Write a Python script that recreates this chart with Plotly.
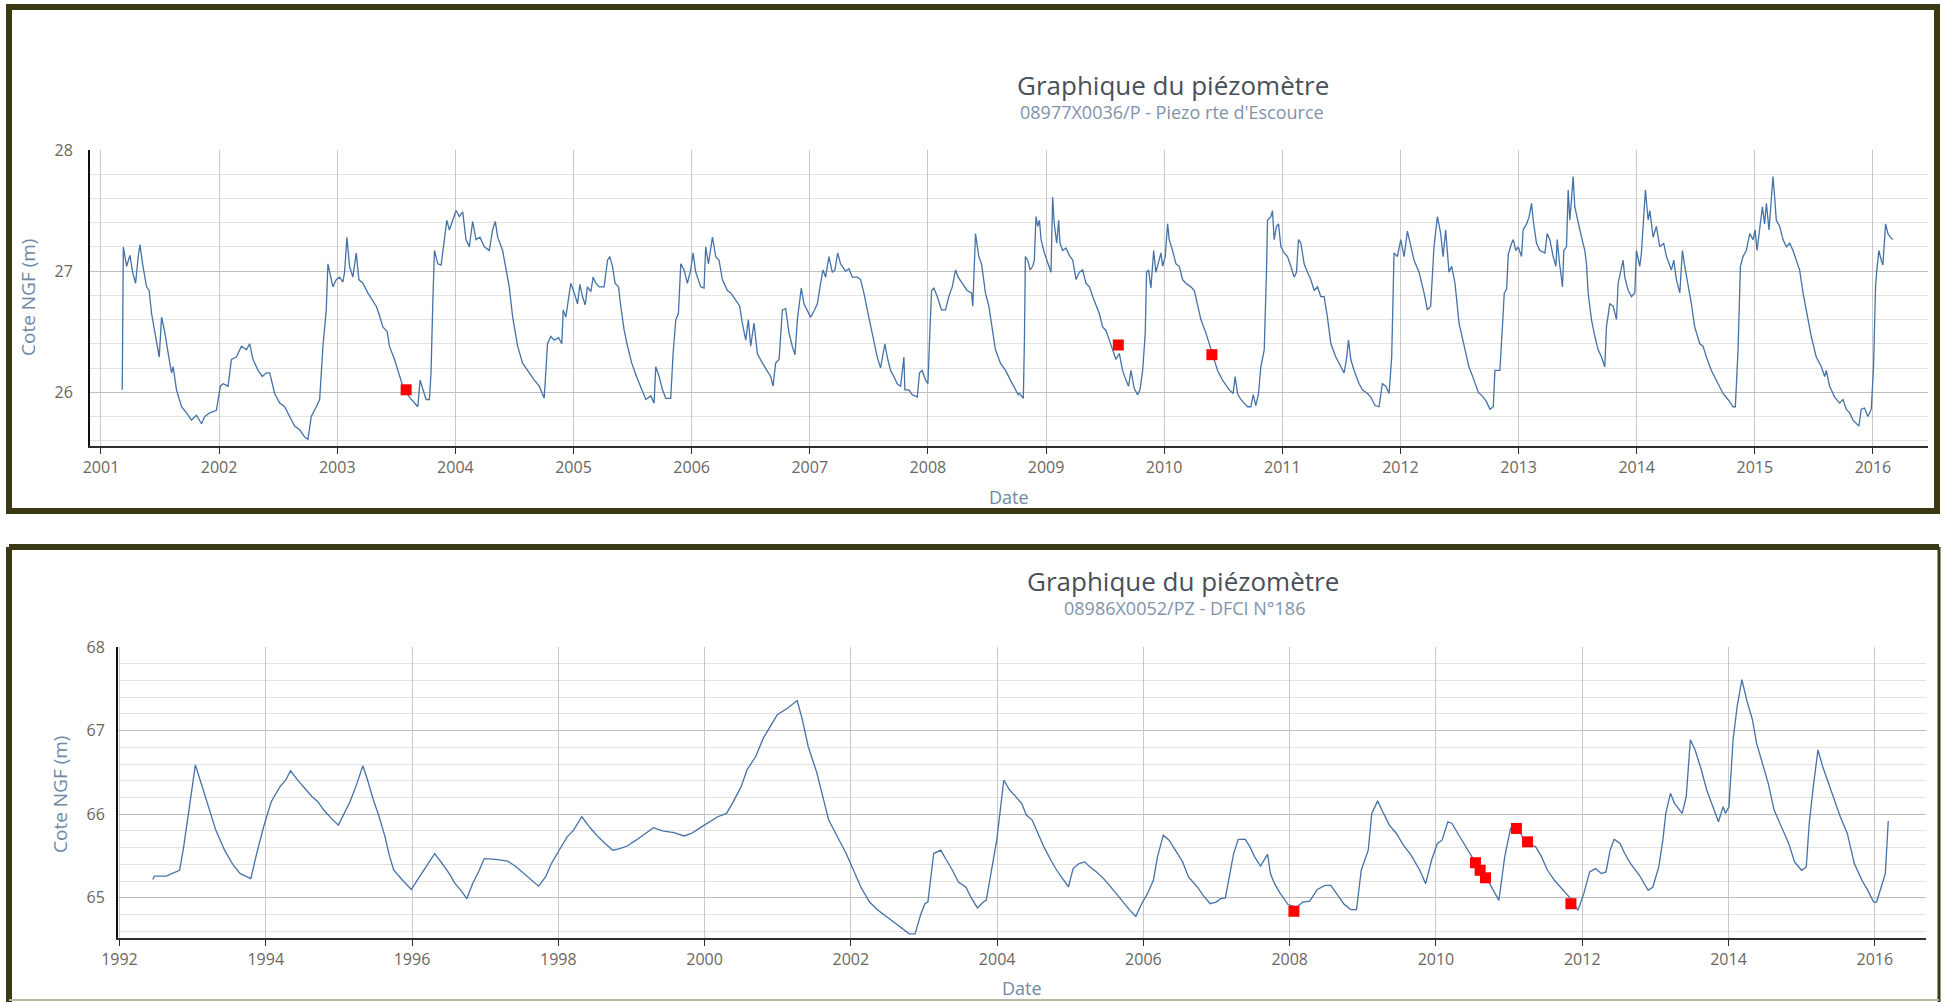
import plotly.graph_objects as go

# ---------------- Top chart: 08977X0036/P ----------------
top_year = [
    2001.180, 2001.189, 2001.217, 2001.245, 2001.268, 2001.293, 2001.315, 2001.330, 2001.352, 2001.386,
    2001.408, 2001.428, 2001.448, 2001.470, 2001.493, 2001.513, 2001.541, 2001.569, 2001.597, 2001.611,
    2001.639, 2001.682, 2001.724, 2001.766, 2001.808, 2001.851, 2001.879, 2001.921, 2001.977, 2002.011,
    2002.034, 2002.076, 2002.104, 2002.146, 2002.189, 2002.231, 2002.259, 2002.287, 2002.330, 2002.366,
    2002.400, 2002.428, 2002.470, 2002.513, 2002.555, 2002.597, 2002.639, 2002.682, 2002.724, 2002.752,
    2002.780, 2002.823, 2002.851, 2002.879, 2002.907, 2002.921, 2002.941, 2002.963, 2002.992, 2003.020,
    2003.048, 2003.062, 2003.082, 2003.104, 2003.132, 2003.161, 2003.183, 2003.217, 2003.259, 2003.296,
    2003.330, 2003.352, 2003.386, 2003.423, 2003.442, 2003.485, 2003.527, 2003.555, 2003.611, 2003.654,
    2003.682, 2003.701, 2003.724, 2003.752, 2003.780, 2003.794, 2003.808, 2003.823, 2003.851, 2003.879,
    2003.907, 2003.927, 2003.949, 2003.977, 2004.006, 2004.034, 2004.062, 2004.090, 2004.118, 2004.146,
    2004.175, 2004.208, 2004.245, 2004.287, 2004.315, 2004.338, 2004.358, 2004.400, 2004.428, 2004.456,
    2004.485, 2004.527, 2004.569, 2004.625, 2004.668, 2004.710, 2004.752, 2004.780, 2004.808, 2004.837,
    2004.873, 2004.901, 2004.913, 2004.935, 2004.958, 2004.977, 2005.006, 2005.034, 2005.054, 2005.076,
    2005.099, 2005.118, 2005.147, 2005.166, 2005.189, 2005.217, 2005.259, 2005.288, 2005.307, 2005.330,
    2005.352, 2005.381, 2005.400, 2005.429, 2005.457, 2005.493, 2005.533, 2005.569, 2005.612, 2005.654,
    2005.682, 2005.696, 2005.725, 2005.753, 2005.781, 2005.823, 2005.843, 2005.866, 2005.888, 2005.908,
    2005.936, 2005.964, 2005.992, 2006.012, 2006.035, 2006.077, 2006.105, 2006.119, 2006.142, 2006.176,
    2006.204, 2006.232, 2006.260, 2006.303, 2006.331, 2006.373, 2006.407, 2006.429, 2006.458, 2006.480,
    2006.500, 2006.528, 2006.556, 2006.599, 2006.641, 2006.669, 2006.689, 2006.711, 2006.740, 2006.768,
    2006.796, 2006.824, 2006.852, 2006.875, 2006.895, 2006.928, 2006.951, 2006.979, 2007.007, 2007.036,
    2007.064, 2007.092, 2007.112, 2007.134, 2007.162, 2007.191, 2007.213, 2007.236, 2007.261, 2007.303,
    2007.332, 2007.360, 2007.402, 2007.430, 2007.458, 2007.487, 2007.515, 2007.543, 2007.571, 2007.599,
    2007.636, 2007.656, 2007.684, 2007.712, 2007.740, 2007.769, 2007.797, 2007.805, 2007.839, 2007.867,
    2007.910, 2007.929, 2007.952, 2007.980, 2008.000, 2008.014, 2008.031, 2008.051, 2008.079, 2008.115,
    2008.149, 2008.177, 2008.206, 2008.234, 2008.256, 2008.290, 2008.332, 2008.369, 2008.380, 2008.403,
    2008.431, 2008.454, 2008.487, 2008.516, 2008.544, 2008.572, 2008.614, 2008.657, 2008.699, 2008.727,
    2008.764, 2008.774, 2008.808, 2008.817, 2008.825, 2008.845, 2008.865, 2008.887, 2008.901, 2008.915,
    2008.930, 2008.944, 2008.958, 2008.986, 2009.014, 2009.042, 2009.056, 2009.070, 2009.090, 2009.107,
    2009.118, 2009.141, 2009.169, 2009.197, 2009.226, 2009.254, 2009.282, 2009.310, 2009.338, 2009.367,
    2009.395, 2009.429, 2009.451, 2009.479, 2009.507, 2009.536, 2009.564, 2009.592, 2009.620, 2009.648,
    2009.677, 2009.699, 2009.719, 2009.747, 2009.775, 2009.795, 2009.818, 2009.840, 2009.851, 2009.868,
    2009.888, 2009.911, 2009.930, 2009.953, 2009.973, 2009.987, 2010.009, 2010.029, 2010.043, 2010.071,
    2010.100, 2010.128, 2010.156, 2010.184, 2010.226, 2010.255, 2010.283, 2010.311, 2010.353, 2010.381,
    2010.424, 2010.452, 2010.494, 2010.551, 2010.584, 2010.601, 2010.621, 2010.649, 2010.677, 2010.706,
    2010.734, 2010.754, 2010.776, 2010.799, 2010.818, 2010.847, 2010.866, 2010.875, 2010.903, 2010.917,
    2010.931, 2010.951, 2010.968, 2010.988, 2011.016, 2011.044, 2011.072, 2011.100, 2011.120, 2011.137,
    2011.157, 2011.185, 2011.213, 2011.241, 2011.270, 2011.298, 2011.326, 2011.354, 2011.382, 2011.411,
    2011.453, 2011.495, 2011.523, 2011.543, 2011.560, 2011.580, 2011.608, 2011.650, 2011.678, 2011.721,
    2011.749, 2011.785, 2011.819, 2011.847, 2011.876, 2011.904, 2011.926, 2011.946, 2011.974, 2012.003,
    2012.031, 2012.059, 2012.087, 2012.115, 2012.158, 2012.200, 2012.228, 2012.256, 2012.284, 2012.313,
    2012.341, 2012.361, 2012.383, 2012.411, 2012.434, 2012.462, 2012.496, 2012.538, 2012.580, 2012.623,
    2012.659, 2012.701, 2012.729, 2012.758, 2012.786, 2012.800, 2012.842, 2012.865, 2012.879, 2012.899,
    2012.913, 2012.941, 2012.955, 2012.977, 2012.997, 2013.025, 2013.039, 2013.068, 2013.090, 2013.110,
    2013.124, 2013.152, 2013.180, 2013.223, 2013.242, 2013.265, 2013.293, 2013.316, 2013.327, 2013.344,
    2013.372, 2013.383, 2013.406, 2013.420, 2013.434, 2013.448, 2013.462, 2013.476, 2013.505, 2013.533,
    2013.561, 2013.575, 2013.589, 2013.617, 2013.646, 2013.674, 2013.702, 2013.730, 2013.744, 2013.772,
    2013.801, 2013.829, 2013.843, 2013.871, 2013.885, 2013.899, 2013.928, 2013.956, 2013.984, 2013.998,
    2014.026, 2014.040, 2014.054, 2014.074, 2014.097, 2014.111, 2014.139, 2014.167, 2014.195, 2014.229,
    2014.252, 2014.294, 2014.314, 2014.336, 2014.365, 2014.387, 2014.407, 2014.435, 2014.463, 2014.491,
    2014.534, 2014.562, 2014.590, 2014.632, 2014.675, 2014.731, 2014.773, 2014.816, 2014.835, 2014.858,
    2014.878, 2014.900, 2014.928, 2014.957, 2014.985, 2015.002, 2015.019, 2015.041, 2015.064, 2015.083,
    2015.098, 2015.120, 2015.140, 2015.154, 2015.168, 2015.182, 2015.210, 2015.239, 2015.267, 2015.295,
    2015.323, 2015.351, 2015.379, 2015.408, 2015.430, 2015.450, 2015.478, 2015.520, 2015.563, 2015.591,
    2015.605, 2015.633, 2015.676, 2015.718, 2015.746, 2015.774, 2015.802, 2015.831, 2015.859, 2015.881,
    2015.901, 2015.929, 2015.957, 2015.986, 2016.005, 2016.022, 2016.033, 2016.050, 2016.070, 2016.084,
    2016.107, 2016.127, 2016.146, 2016.169,
]
top_level = [
    26.02, 27.20, 27.04, 27.13, 26.99, 26.90, 27.12, 27.22, 27.06, 26.87,
    26.84, 26.65, 26.54, 26.40, 26.29, 26.62, 26.49, 26.32, 26.16, 26.21,
    26.02, 25.88, 25.83, 25.77, 25.81, 25.74, 25.80, 25.83, 25.85, 26.05,
    26.07, 26.05, 26.27, 26.29, 26.38, 26.35, 26.40, 26.27, 26.18, 26.13,
    26.16, 26.16, 25.99, 25.91, 25.88, 25.80, 25.72, 25.69, 25.63, 25.61,
    25.80, 25.88, 25.94, 26.38, 26.68, 27.06, 26.98, 26.87, 26.93, 26.95,
    26.91, 26.99, 27.28, 27.04, 26.95, 27.15, 26.93, 26.90, 26.82, 26.76,
    26.71, 26.65, 26.54, 26.50, 26.38, 26.27, 26.13, 26.05, 25.96, 25.91,
    25.88, 26.10, 26.03, 25.94, 25.94, 26.16, 26.71, 27.17, 27.06, 27.05,
    27.26, 27.42, 27.34, 27.42, 27.50, 27.45, 27.49, 27.26, 27.20, 27.41,
    27.26, 27.28, 27.20, 27.17, 27.34, 27.41, 27.28, 27.17, 27.01, 26.87,
    26.62, 26.38, 26.24, 26.16, 26.10, 26.05, 25.95, 26.40, 26.46, 26.43,
    26.45, 26.40, 26.68, 26.62, 26.76, 26.90, 26.82, 26.73, 26.89, 26.79,
    26.72, 26.87, 26.83, 26.95, 26.90, 26.87, 26.87, 27.09, 27.12, 27.04,
    26.90, 26.87, 26.71, 26.51, 26.38, 26.24, 26.13, 26.05, 25.94, 25.97,
    25.91, 26.21, 26.13, 26.02, 25.95, 25.95, 26.32, 26.60, 26.65, 27.06,
    27.01, 26.90, 27.01, 27.15, 26.99, 26.87, 26.86, 27.20, 27.06, 27.28,
    27.12, 27.09, 26.93, 26.84, 26.82, 26.76, 26.71, 26.57, 26.43, 26.60,
    26.38, 26.57, 26.32, 26.24, 26.18, 26.13, 26.05, 26.24, 26.27, 26.68,
    26.69, 26.49, 26.38, 26.31, 26.60, 26.86, 26.73, 26.67, 26.62, 26.67,
    26.73, 26.90, 27.01, 26.95, 27.12, 26.99, 27.01, 27.15, 27.06, 27.00,
    27.02, 26.95, 26.95, 26.93, 26.82, 26.68, 26.54, 26.40, 26.29, 26.20,
    26.40, 26.29, 26.18, 26.13, 26.07, 26.05, 26.29, 26.02, 26.02, 25.98,
    25.96, 26.16, 26.18, 26.10, 26.07, 26.43, 26.84, 26.86, 26.79, 26.68,
    26.68, 26.79, 26.87, 27.01, 26.95, 26.90, 26.84, 26.82, 26.71, 27.31,
    27.12, 27.06, 26.82, 26.71, 26.54, 26.35, 26.24, 26.18, 26.10, 26.05,
    25.98, 25.99, 25.95, 26.43, 27.12, 27.09, 27.01, 27.04, 27.09, 27.45,
    27.37, 27.42, 27.26, 27.15, 27.06, 26.99, 27.61, 27.39, 27.23, 27.42,
    27.23, 27.17, 27.19, 27.13, 27.09, 26.93, 26.99, 27.01, 26.90, 26.87,
    26.79, 26.71, 26.65, 26.54, 26.51, 26.43, 26.35, 26.27, 26.32, 26.18,
    26.10, 26.05, 26.18, 26.03, 25.98, 26.02, 26.18, 26.49, 26.99, 27.01,
    26.86, 27.17, 26.99, 27.09, 27.15, 27.04, 27.12, 27.39, 27.26, 27.17,
    27.06, 27.04, 26.93, 26.90, 26.87, 26.84, 26.71, 26.60, 26.49, 26.40,
    26.27, 26.18, 26.10, 26.02, 25.99, 26.13, 25.99, 25.94, 25.91, 25.88,
    25.88, 25.98, 25.89, 25.99, 26.21, 26.35, 26.99, 27.42, 27.45, 27.50,
    27.26, 27.37, 27.39, 27.20, 27.15, 27.12, 27.04, 26.95, 26.99, 27.26,
    27.23, 27.06, 26.99, 26.93, 26.84, 26.87, 26.79, 26.79, 26.62, 26.40,
    26.29, 26.21, 26.16, 26.27, 26.43, 26.27, 26.18, 26.07, 26.02, 25.99,
    25.96, 25.89, 25.88, 26.07, 26.05, 25.99, 26.29, 27.15, 27.12, 27.26,
    27.12, 27.33, 27.20, 27.09, 26.99, 26.82, 26.68, 26.71, 27.20, 27.45,
    27.31, 27.12, 27.34, 26.99, 27.04, 26.90, 26.57, 26.38, 26.21, 26.10,
    26.00, 25.96, 25.92, 25.86, 25.88, 26.18, 26.18, 26.57, 26.82, 26.85,
    27.14, 27.23, 27.26, 27.17, 27.20, 27.12, 27.34, 27.39, 27.45, 27.56,
    27.42, 27.23, 27.17, 27.15, 27.31, 27.26, 27.12, 27.04, 27.26, 27.09,
    26.87, 27.17, 27.20, 27.67, 27.42, 27.59, 27.78, 27.53, 27.39, 27.28,
    27.17, 27.06, 26.82, 26.60, 26.46, 26.35, 26.29, 26.21, 26.54, 26.73,
    26.71, 26.60, 26.90, 27.01, 27.09, 26.95, 26.84, 26.79, 26.82, 27.17,
    27.04, 27.15, 27.39, 27.67, 27.42, 27.50, 27.28, 27.37, 27.20, 27.23,
    27.12, 27.01, 27.09, 26.93, 26.82, 27.17, 27.04, 26.90, 26.73, 26.54,
    26.40, 26.38, 26.29, 26.18, 26.10, 25.99, 25.94, 25.88, 25.88, 26.35,
    27.04, 27.12, 27.17, 27.31, 27.26, 27.34, 27.17, 27.37, 27.53, 27.39,
    27.56, 27.34, 27.64, 27.78, 27.61, 27.42, 27.37, 27.26, 27.20, 27.23,
    27.17, 27.09, 27.01, 26.82, 26.71, 26.62, 26.46, 26.29, 26.21, 26.13,
    26.18, 26.05, 25.96, 25.91, 25.94, 25.86, 25.83, 25.77, 25.74, 25.72,
    25.86, 25.87, 25.80, 25.86, 26.21, 26.87, 27.01, 27.17, 27.09, 27.05,
    27.39, 27.31, 27.28, 27.26,
]
top_obs_year = [2003.583, 2009.612, 2010.404]
top_obs_level = [26.02, 26.39, 26.31]
top_ticks = [2001, 2002, 2003, 2004, 2005, 2006, 2007, 2008, 2009, 2010, 2011, 2012, 2013, 2014, 2015, 2016]
top_tick_labels = [str(t) for t in top_ticks]
top_y_ticks = [26, 27, 28]

# ---------------- Bottom chart: 08986X0052/PZ ----------------
bot_year = [
    1992.455, 1992.479, 1992.638, 1992.758, 1992.822, 1992.878, 1992.958, 1993.038, 1993.117, 1993.173,
    1993.237, 1993.317, 1993.437, 1993.556, 1993.652, 1993.796, 1993.876, 1993.971, 1994.075, 1994.195,
    1994.275, 1994.338, 1994.434, 1994.514, 1994.634, 1994.713, 1994.793, 1994.897, 1994.993, 1995.073,
    1995.152, 1995.232, 1995.328, 1995.392, 1995.472, 1995.551, 1995.631, 1995.695, 1995.751, 1995.871,
    1995.990, 1996.070, 1996.190, 1996.310, 1996.429, 1996.509, 1996.589, 1996.669, 1996.749, 1996.828,
    1996.908, 1996.988, 1997.148, 1997.307, 1997.427, 1997.587, 1997.730, 1997.826, 1997.906, 1998.026,
    1998.121, 1998.209, 1998.321, 1998.425, 1998.544, 1998.640, 1998.744, 1998.840, 1998.943, 1999.063,
    1999.183, 1999.302, 1999.422, 1999.582, 1999.717, 1999.821, 1999.941, 2000.061, 2000.180, 2000.300,
    2000.380, 2000.500, 2000.579, 2000.699, 2000.803, 2000.899, 2000.994, 2001.138, 2001.266, 2001.337,
    2001.417, 2001.537, 2001.617, 2001.697, 2001.816, 2001.936, 2002.056, 2002.136, 2002.255, 2002.375,
    2002.495, 2002.614, 2002.734, 2002.798, 2002.878, 2002.958, 2003.013, 2003.053, 2003.133, 2003.229,
    2003.309, 2003.389, 2003.469, 2003.572, 2003.652, 2003.731, 2003.811, 2003.851, 2003.915, 2003.995,
    2004.091, 2004.170, 2004.255, 2004.335, 2004.399, 2004.479, 2004.559, 2004.639, 2004.735, 2004.815,
    2004.895, 2004.975, 2005.039, 2005.119, 2005.199, 2005.255, 2005.359, 2005.456, 2005.536, 2005.632,
    2005.736, 2005.816, 2005.896, 2005.976, 2006.056, 2006.136, 2006.192, 2006.272, 2006.352, 2006.432,
    2006.536, 2006.616, 2006.737, 2006.817, 2006.913, 2006.993, 2007.057, 2007.121, 2007.177, 2007.233,
    2007.297, 2007.393, 2007.457, 2007.521, 2007.601, 2007.697, 2007.737, 2007.793, 2007.873, 2007.978,
    2008.098, 2008.178, 2008.274, 2008.378, 2008.482, 2008.562, 2008.642, 2008.738, 2008.834, 2008.914,
    2008.978, 2009.074, 2009.122, 2009.203, 2009.283, 2009.363, 2009.459, 2009.555, 2009.659, 2009.779,
    2009.859, 2009.939, 2010.019, 2010.083, 2010.163, 2010.219, 2010.299, 2010.380, 2010.460, 2010.540,
    2010.604, 2010.684, 2010.780, 2010.860, 2010.940, 2011.020, 2011.100, 2011.204, 2011.300, 2011.364,
    2011.444, 2011.524, 2011.620, 2011.741, 2011.861, 2011.941, 2012.021, 2012.101, 2012.181, 2012.261,
    2012.325, 2012.381, 2012.437, 2012.517, 2012.581, 2012.661, 2012.781, 2012.902, 2012.966, 2013.046,
    2013.102, 2013.142, 2013.206, 2013.262, 2013.366, 2013.422, 2013.478, 2013.542, 2013.622, 2013.702,
    2013.782, 2013.862, 2013.926, 2013.958, 2014.006, 2014.062, 2014.118, 2014.183, 2014.247, 2014.327,
    2014.383, 2014.463, 2014.543, 2014.623, 2014.703, 2014.823, 2014.903, 2014.999, 2015.063, 2015.103,
    2015.159, 2015.223, 2015.287, 2015.367, 2015.447, 2015.528, 2015.624, 2015.720, 2015.824, 2015.904,
    2015.984, 2016.024, 2016.088, 2016.144, 2016.184,
]
bot_level = [
    65.22, 65.26, 65.26, 65.30, 65.33, 65.61, 66.09, 66.59, 66.37, 66.21,
    66.01, 65.81, 65.57, 65.39, 65.29, 65.23, 65.53, 65.85, 66.15, 66.33,
    66.41, 66.52, 66.41, 66.33, 66.21, 66.15, 66.05, 65.95, 65.87, 66.01,
    66.15, 66.33, 66.58, 66.41, 66.17, 65.97, 65.73, 65.49, 65.33, 65.21,
    65.10, 65.21, 65.37, 65.53, 65.39, 65.29, 65.17, 65.09, 64.99, 65.17,
    65.31, 65.47, 65.46, 65.44, 65.37, 65.25, 65.14, 65.25, 65.41, 65.59,
    65.73, 65.81, 65.97, 65.85, 65.73, 65.65, 65.57, 65.59, 65.62, 65.69,
    65.76, 65.84, 65.80, 65.78, 65.74, 65.77, 65.84, 65.91, 65.97, 66.01,
    66.13, 66.33, 66.53, 66.69, 66.91, 67.05, 67.19, 67.27, 67.36, 67.13,
    66.81, 66.49, 66.21, 65.93, 65.73, 65.53, 65.29, 65.13, 64.95, 64.85,
    64.77, 64.69, 64.61, 64.57, 64.57, 64.81, 64.93, 64.95, 65.53, 65.57,
    65.45, 65.33, 65.19, 65.13, 64.99, 64.88, 64.95, 64.97, 65.29, 65.69,
    66.41, 66.29, 66.21, 66.13, 65.99, 65.93, 65.77, 65.61, 65.45, 65.33,
    65.23, 65.13, 65.35, 65.41, 65.43, 65.38, 65.31, 65.23, 65.15, 65.05,
    64.93, 64.85, 64.78, 64.93, 65.05, 65.21, 65.49, 65.75, 65.69, 65.57,
    65.43, 65.25, 65.13, 65.03, 64.93, 64.95, 64.99, 65.00, 65.25, 65.53,
    65.70, 65.70, 65.61, 65.49, 65.38, 65.52, 65.29, 65.17, 65.05, 64.92,
    64.89, 64.95, 64.96, 65.10, 65.15, 65.15, 65.05, 64.93, 64.86, 64.86,
    65.33, 65.57, 66.01, 66.16, 66.01, 65.87, 65.77, 65.63, 65.51, 65.33,
    65.17, 65.45, 65.65, 65.69, 65.91, 65.89, 65.77, 65.65, 65.53, 65.41,
    65.33, 65.25, 65.09, 64.97, 65.49, 65.83, 65.88, 65.69, 65.63, 65.61,
    65.49, 65.33, 65.21, 65.09, 64.97, 64.85, 65.05, 65.31, 65.35, 65.29,
    65.31, 65.57, 65.70, 65.65, 65.53, 65.41, 65.27, 65.09, 65.13, 65.37,
    65.69, 66.01, 66.25, 66.13, 66.01, 66.21, 66.89, 66.77, 66.55, 66.29,
    66.09, 65.91, 66.09, 66.01, 66.09, 66.89, 67.29, 67.61, 67.37, 67.13,
    66.85, 66.61, 66.37, 66.05, 65.89, 65.65, 65.43, 65.33, 65.37, 65.89,
    66.33, 66.77, 66.57, 66.37, 66.19, 65.97, 65.77, 65.41, 65.21, 65.09,
    64.95, 64.95, 65.13, 65.29, 65.92,
]
bot_obs_year = [2008.058, 2010.540, 2010.604, 2010.677, 2011.100, 2011.252, 2011.845]
bot_obs_level = [64.84, 65.42, 65.33, 65.24, 65.83, 65.67, 64.93]
bot_ticks = [1992, 1994, 1996, 1998, 2000, 2002, 2004, 2006, 2008, 2010, 2012, 2014, 2016]
bot_tick_labels = [str(t) for t in bot_ticks]
bot_y_ticks = [65, 66, 67, 68]

title_text = "Graphique du piézomètre"
top_subtitle = "08977X0036/P - Piezo rte d'Escource"
bot_subtitle = "08986X0052/PZ - DFCI N°186"
x_title = "Date"
y_title = "Cote NGF (m)"

# ---------------- Figure ----------------
W, H = 1942, 1002
FONT = "Open Sans"
LINE_COLOR = "#4572a7"
OBS_COLOR = "#ff0000"
TICK_COLOR = "#6b6661"
AXTITLE_COLOR = "#7088a4"
TITLE_COLOR = "#4a4f58"
SUBTITLE_COLOR = "#8193ab"
BORDER = "#3b3a14"


def px(x):
    return x / W


def py(y):
    return 1 - y / H


fig = go.Figure()
fig.add_trace(go.Scatter(x=top_year, y=top_level, mode="lines", xaxis="x", yaxis="y",
                         line=dict(color=LINE_COLOR, width=1.3), hoverinfo="skip"))
fig.add_trace(go.Scatter(x=top_obs_year, y=top_obs_level, mode="markers", xaxis="x", yaxis="y",
                         marker=dict(symbol="square", size=11, color=OBS_COLOR), hoverinfo="skip"))
fig.add_trace(go.Scatter(x=bot_year, y=bot_level, mode="lines", xaxis="x2", yaxis="y2",
                         line=dict(color=LINE_COLOR, width=1.3), hoverinfo="skip"))
fig.add_trace(go.Scatter(x=bot_obs_year, y=bot_obs_level, mode="markers", xaxis="x2", yaxis="y2",
                         marker=dict(symbol="square", size=11, color=OBS_COLOR), hoverinfo="skip"))

tickfont = dict(family=FONT, size=16, color=TICK_COLOR)

xaxis_common = dict(showgrid=True, gridcolor="#c9c9c9", gridwidth=1, showline=True,
                    linecolor="#2e2e2e", linewidth=2, ticks="outside", ticklen=6, tickwidth=1,
                    tickcolor="#2e2e2e", zeroline=False, tickfont=tickfont, tickmode="array",
                    automargin=False)
yaxis_common = dict(showgrid=True, gridcolor="#bdbdbd", gridwidth=1, showline=True,
                    linecolor="#111111", linewidth=2, ticks="", zeroline=False, tickfont=tickfont,
                    tickmode="array", automargin=False)

fig.update_layout(
    width=W, height=H, autosize=False,
    margin=dict(l=0, r=0, t=0, b=0, pad=0),
    paper_bgcolor="white", plot_bgcolor="white",
    showlegend=False, hovermode=False,
    font=dict(family=FONT),
    xaxis=dict(domain=[px(90), px(1928)], range=[2000.907, 2016.466], anchor="y",
               tickvals=top_ticks, ticktext=top_tick_labels, **xaxis_common),
    yaxis=dict(domain=[py(446), py(150)], range=[25.556, 28.0], anchor="x",
               tickvals=top_y_ticks, ticklabelstandoff=12,
               minor=dict(tickmode="linear", tick0=26, dtick=0.2, showgrid=True,
                          gridcolor="#e2e2e2", gridwidth=1, ticks=""),
               **yaxis_common),
    xaxis2=dict(domain=[px(118), px(1926)], range=[1991.98, 2016.70], anchor="y2",
                tickvals=bot_ticks, ticktext=bot_tick_labels, **xaxis_common),
    yaxis2=dict(domain=[py(938), py(647)], range=[64.52, 68.0], anchor="x2",
                tickvals=bot_y_ticks, ticklabelstandoff=8,
                minor=dict(tickmode="linear", tick0=65, dtick=0.2, showgrid=True,
                           gridcolor="#e2e2e2", gridwidth=1, ticks=""),
                **yaxis_common),
)

annotations = [
    dict(text=title_text, x=px(1173), y=py(85), font=dict(size=26, color=TITLE_COLOR)),
    dict(text=top_subtitle, x=px(1172), y=py(112), font=dict(size=18, color=SUBTITLE_COLOR)),
    dict(text=x_title, x=px(1009), y=py(497), font=dict(size=18, color=AXTITLE_COLOR)),
    dict(text=y_title, x=px(28), y=py(298), textangle=-90, font=dict(size=19, color=AXTITLE_COLOR)),
    dict(text=title_text, x=px(1183), y=py(581), font=dict(size=26, color=TITLE_COLOR)),
    dict(text=bot_subtitle, x=px(1184), y=py(608), font=dict(size=18, color=SUBTITLE_COLOR)),
    dict(text=x_title, x=px(1022), y=py(988), font=dict(size=18, color=AXTITLE_COLOR)),
    dict(text=y_title, x=px(60), y=py(795), textangle=-90, font=dict(size=19, color=AXTITLE_COLOR)),
]
for a in annotations:
    a.update(xref="paper", yref="paper", showarrow=False, xanchor="center", yanchor="middle")
    a["font"]["family"] = FONT
fig.update_layout(annotations=annotations)

shapes = [
    dict(type="rect", x0=px(9), x1=px(1937), y0=py(511), y1=py(7),
         line=dict(color=BORDER, width=6)),
    dict(type="line", x0=px(9), x1=px(1939), y0=py(547), y1=py(547),
         line=dict(color=BORDER, width=6)),
    dict(type="line", x0=px(9), x1=px(9), y0=py(547), y1=py(1002),
         line=dict(color=BORDER, width=6)),
    dict(type="line", x0=px(1939), x1=px(1939), y0=py(547), y1=py(1002),
         line=dict(color=BORDER, width=3)),
    dict(type="line", x0=px(9), x1=px(1939), y0=py(1000), y1=py(1000),
         line=dict(color="#b9b9a8", width=2)),
]
for s in shapes:
    s.update(xref="paper", yref="paper")
fig.update_layout(shapes=shapes)

page_fix = ("document.body.style.margin='0';document.body.style.padding='0';"
            "document.body.style.overflow='hidden';"
            "document.documentElement.style.overflow='hidden';")
fig.write_html("out.html", post_script=page_fix)
